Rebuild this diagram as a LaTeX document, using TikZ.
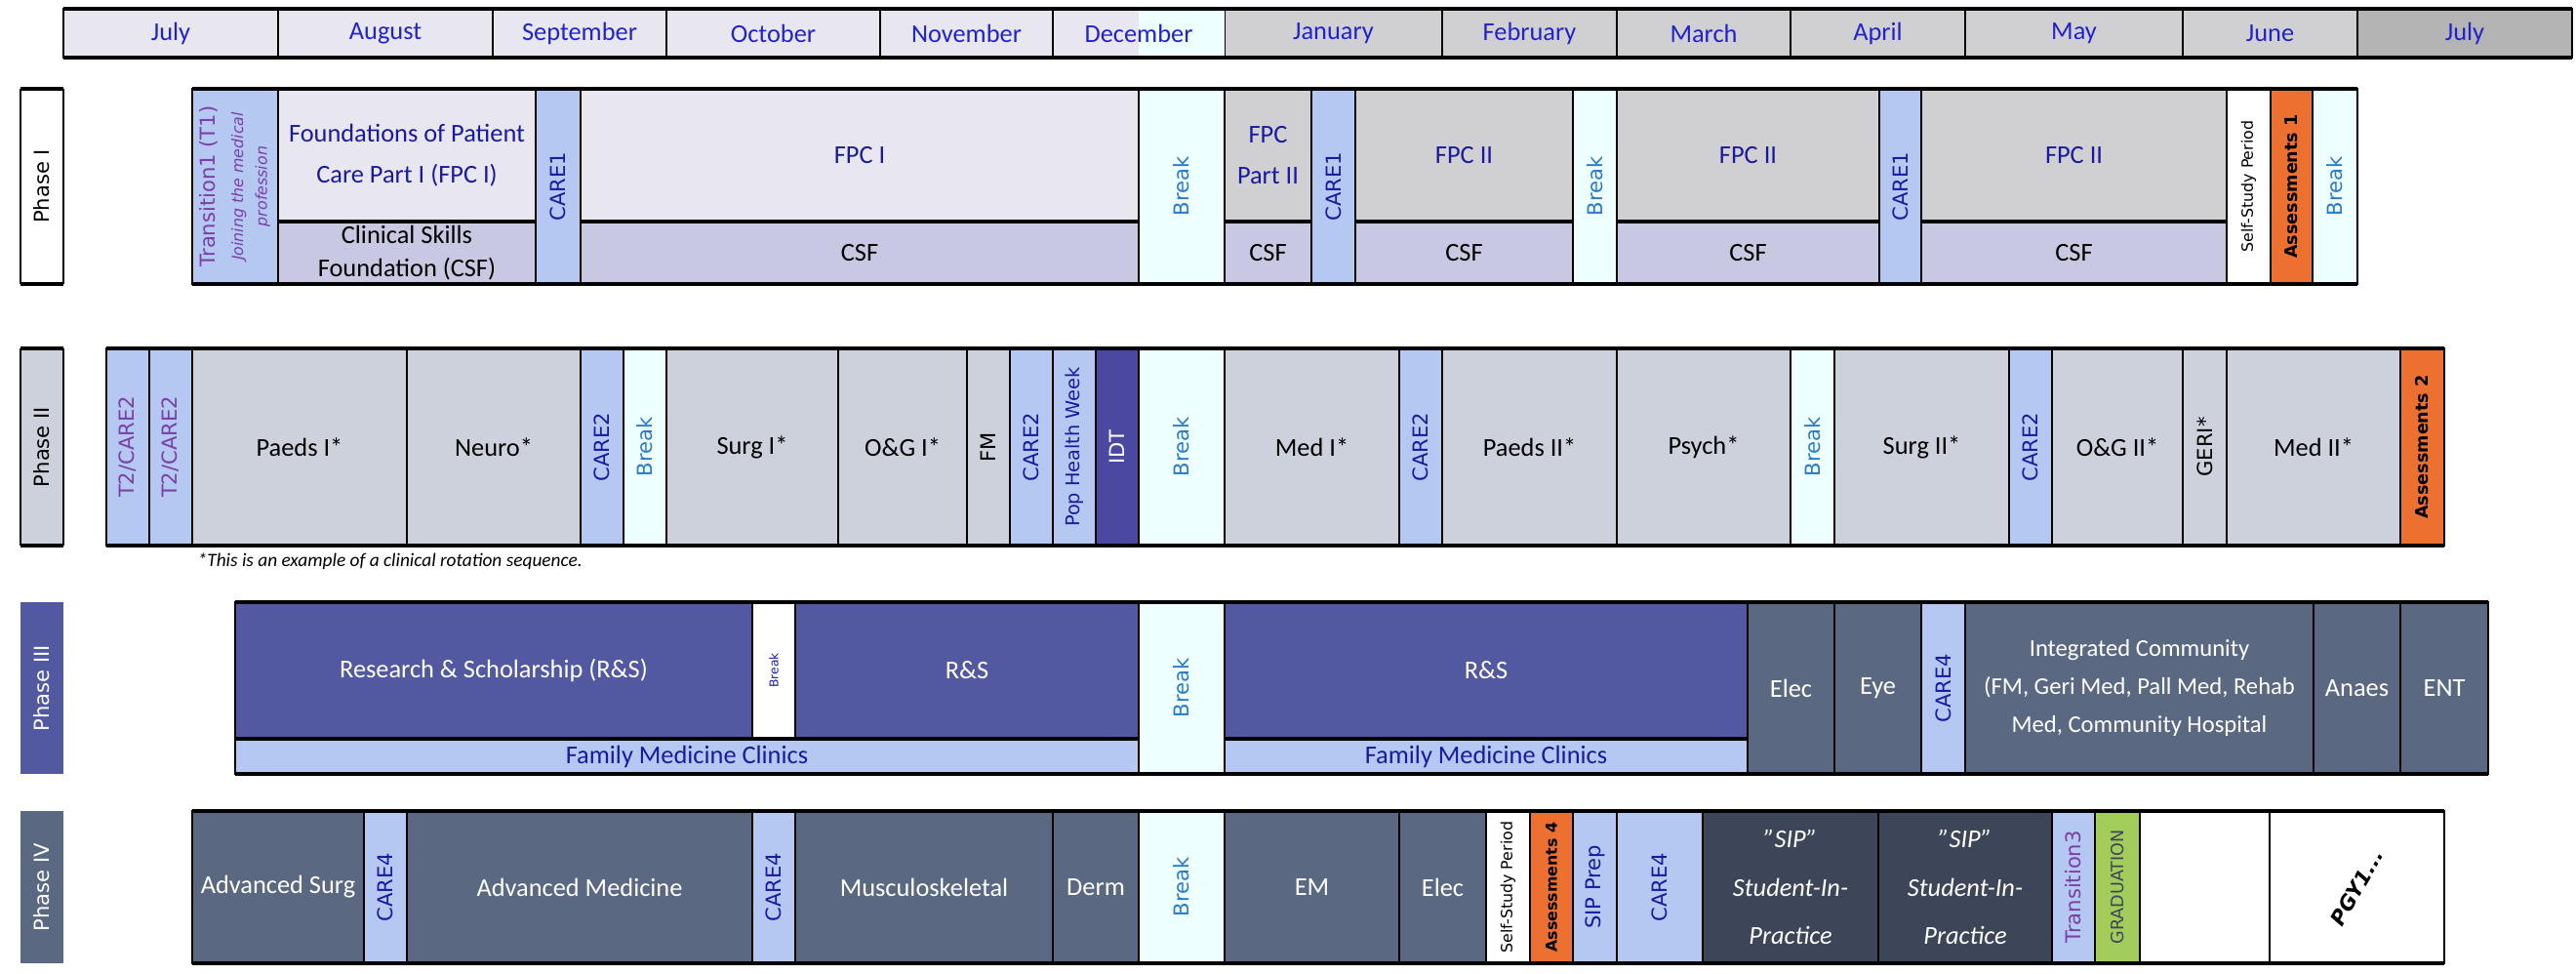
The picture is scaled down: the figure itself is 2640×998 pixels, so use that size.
\documentclass[tikz,border=0pt]{standalone}
\usepackage{fontspec}
\setmainfont{Carlito}
\newfontfamily\wide{DejaVu Sans}
\usetikzlibrary{positioning}
\definecolor{LavBg}{HTML}{E8E6EE}
\definecolor{GreyBg}{HTML}{D0D0D2}
\definecolor{DarkGrey}{HTML}{B4B4B4}
\definecolor{CsfBg}{HTML}{C8C8E2}
\definecolor{CareBg}{HTML}{B4C8F2}
\definecolor{BreakBg}{HTML}{EEFFFF}
\definecolor{ClinBg}{HTML}{CDD1DC}
\definecolor{IdtBg}{HTML}{4A48A0}
\definecolor{RsBg}{HTML}{5259A0}
\definecolor{SlateBg}{HTML}{5B6882}
\definecolor{SipBg}{HTML}{3D4658}
\definecolor{AssessBg}{HTML}{EC7030}
\definecolor{GradBg}{HTML}{A2CD5A}
\definecolor{MonthText}{HTML}{2222CC}
\definecolor{FpcText}{HTML}{1A1AA0}
\definecolor{BreakText}{HTML}{2A7AC8}
\definecolor{TransText}{HTML}{7A3FA8}
\tikzset{
  cell/.style={draw=black, line width=0.5pt},
  lbl/.style={font=\fontsize{7.5}{12}\selectfont, align=center, inner sep=0pt},
  vlbl/.style={font=\wide\fontsize{6}{7}\selectfont, rotate=90, inner sep=0pt},
  care/.style={vlbl, text=FpcText},
  brk/.style={vlbl, text=BreakText},
  tiny/.style={vlbl, font=\wide\fontsize{4.5}{5}\selectfont},
  assess/.style={vlbl, font=\wide\bfseries\fontsize{5}{6}\selectfont},
  row/.style={draw=black, line width=1.4pt}
}
% box: name, x1, x2, y1, y2, fill style, text style, text
\newcommand\blk[8]{%
  \draw[cell, #6] (#2,#4) rectangle (#3,#5);
  \node[#7] (#1) at ({(#2+#3)/2},{(#4+#5)/2}) {#8};}
\begin{document}
\begin{tikzpicture}[x=0.01cm, y=-0.01cm]
\useasboundingbox (0,0) rectangle (2640,998);

% months
\foreach \a/\b/\m/\c [count=\i] in {65/285/July/LavBg, 285/505/August/LavBg,
    505/683/September/LavBg, 683/902/October/LavBg, 902/1079/November/LavBg,
    1079/1255/December/LavBg, 1255/1478/January/GreyBg, 1478/1657/February/GreyBg,
    1657/1835/March/GreyBg, 1835/2014/April/GreyBg, 2014/2237/May/GreyBg,
    2237/2416/June/GreyBg, 2416/2636/July/DarkGrey}
  \draw[cell, fill=\c] (\a,9) rectangle (\b,59);
\fill[BreakBg] (1167,9.5) rectangle (1254.5,58.5);
\foreach \a/\b/\m [count=\i] in {65/285/July, 285/505/August, 505/683/September,
    683/902/October, 902/1079/November, 1079/1255/December, 1255/1478/January,
    1478/1657/February, 1657/1835/March, 1835/2014/April, 2014/2237/May,
    2237/2416/June, 2416/2636/July}
  \node[lbl, text=MonthText] (m\i) at ({(\a+\b)/2},34) {\m};
\draw[row] (65,9) -- (2636,9) (65,59) -- (2636,59);
\draw[cell] (65,9) -- (65,59) (2636,9) -- (2636,59);

% phase labels
\blk{p1}{21}{65}{91}{291}{fill=white, draw=none}{vlbl}{Phase I}
\draw[row] (21,91) -- (65,91) (21,291) -- (65,291);
\draw[cell] (21,91) -- (21,291) (65,91) -- (65,291);
\blk{p2}{21}{65}{357}{559}{fill=ClinBg, draw=none}{vlbl}{Phase II}
\draw[row] (21,357) -- (65,357) (21,559) -- (65,559);
\draw[cell] (21,357) -- (21,559) (65,357) -- (65,559);
\blk{p3}{21}{65}{617}{793}{fill=RsBg, draw=none}{vlbl, text=white}{Phase III}
\blk{p4}{21}{65}{831}{987}{fill=SlateBg, draw=none}{vlbl, text=white}{Phase IV}

% Phase I
\blk{t1}{197}{285}{91}{291}{fill=CareBg}{vlbl, align=center, text=TransText}{Transition1 (T1)\\[1pt]{\fontsize{4.5}{5.5}\selectfont\itshape Joining the medical}\\{\fontsize{4.5}{5.5}\selectfont\itshape profession}}
\blk{fpca}{285}{549}{91}{227}{fill=LavBg}{lbl, text=FpcText}{Foundations of Patient\\Care Part I (FPC I)}
\blk{csfa}{285}{549}{227}{291}{fill=CsfBg}{lbl, font=\fontsize{7.5}{9.5}\selectfont}{Clinical Skills\\Foundation (CSF)}
\blk{ca}{549}{595}{91}{291}{fill=CareBg}{care}{CARE1}
\blk{fpcb}{595}{1167}{91}{227}{fill=LavBg}{lbl, text=FpcText}{FPC I}
\blk{csfb}{595}{1167}{227}{291}{fill=CsfBg}{lbl}{CSF}
\blk{ba}{1167}{1255}{91}{291}{fill=BreakBg}{brk}{Break}
\blk{fpcc}{1255}{1344}{91}{227}{fill=GreyBg}{lbl, text=FpcText}{FPC\\Part II}
\blk{csfc}{1255}{1344}{227}{291}{fill=CsfBg}{lbl}{CSF}
\blk{cb}{1344}{1389}{91}{291}{fill=CareBg}{care}{CARE1}
\blk{fpcd}{1389}{1612}{91}{227}{fill=GreyBg}{lbl, text=FpcText}{FPC II}
\blk{csfd}{1389}{1612}{227}{291}{fill=CsfBg}{lbl}{CSF}
\blk{bb}{1612}{1657}{91}{291}{fill=BreakBg}{brk}{Break}
\blk{fpce}{1657}{1926}{91}{227}{fill=GreyBg}{lbl, text=FpcText}{FPC II}
\blk{csfe}{1657}{1926}{227}{291}{fill=CsfBg}{lbl}{CSF}
\blk{cc}{1926}{1969}{91}{291}{fill=CareBg}{care}{CARE1}
\blk{fpcf}{1969}{2282}{91}{227}{fill=GreyBg}{lbl, text=FpcText}{FPC II}
\blk{csff}{1969}{2282}{227}{291}{fill=CsfBg}{lbl}{CSF}
\blk{ssa}{2282}{2327}{91}{291}{fill=white}{tiny}{Self-Study Period}
\blk{asa}{2327}{2370}{91}{291}{fill=AssessBg}{assess}{Assessments 1}
\blk{bc}{2370}{2416}{91}{291}{fill=BreakBg}{brk}{Break}
\draw[row] (197,91) -- (2416,91) (197,291) -- (2416,291);
\draw[row, line width=1pt] (285,227) -- (549,227) (595,227) -- (1167,227)
  (1255,227) -- (1344,227) (1389,227) -- (1612,227) (1657,227) -- (1926,227) (1969,227) -- (2282,227);

% Phase II
\blk{t2a}{109}{153}{357}{559}{fill=CareBg}{vlbl, text=TransText}{T2/CARE2}
\blk{t2b}{153}{197}{357}{559}{fill=CareBg}{vlbl, text=TransText}{T2/CARE2}
\blk{paeda}{197}{417}{357}{559}{fill=ClinBg}{lbl}{Paeds I*}
\blk{neuro}{417}{595}{357}{559}{fill=ClinBg}{lbl}{Neuro*}
\blk{cd}{595}{639}{357}{559}{fill=CareBg}{care}{CARE2}
\blk{bd}{639}{683}{357}{559}{fill=BreakBg}{brk}{Break}
\blk{surga}{683}{859}{357}{559}{fill=ClinBg}{lbl}{Surg I*}
\blk{oga}{859}{991}{357}{559}{fill=ClinBg}{lbl}{O\&G I*}
\blk{fm}{991}{1035}{357}{559}{fill=ClinBg}{vlbl}{FM}
\blk{ce}{1035}{1079}{357}{559}{fill=CareBg}{care}{CARE2}
\blk{pop}{1079}{1123}{357}{559}{fill=CareBg}{care, font=\wide\fontsize{5.5}{6}\selectfont}{Pop Health Week}
\blk{idt}{1123}{1167}{357}{559}{fill=IdtBg}{vlbl, text=white}{IDT}
\blk{be}{1167}{1255}{357}{559}{fill=BreakBg}{brk}{Break}
\blk{meda}{1255}{1434}{357}{559}{fill=ClinBg}{lbl}{Med I*}
\blk{cf}{1434}{1478}{357}{559}{fill=CareBg}{care}{CARE2}
\blk{paedb}{1478}{1657}{357}{559}{fill=ClinBg}{lbl}{Paeds II*}
\blk{psych}{1657}{1835}{357}{559}{fill=ClinBg}{lbl}{Psych*}
\blk{bf}{1835}{1880}{357}{559}{fill=BreakBg}{brk}{Break}
\blk{surgb}{1880}{2059}{357}{559}{fill=ClinBg}{lbl}{Surg II*}
\blk{cg}{2059}{2103}{357}{559}{fill=CareBg}{care}{CARE2}
\blk{ogb}{2103}{2237}{357}{559}{fill=ClinBg}{lbl}{O\&G II*}
\blk{geri}{2237}{2282}{357}{559}{fill=ClinBg}{vlbl}{GERI*}
\blk{medb}{2282}{2460}{357}{559}{fill=ClinBg}{lbl}{Med II*}
\blk{asb}{2460}{2505}{357}{559}{fill=AssessBg}{assess}{Assessments 2}
\draw[row] (109,357) -- (2505,357) (109,559) -- (2505,559);
\node[lbl, anchor=west, font=\itshape\fontsize{5.5}{7}\selectfont] (note) at (202,575) {*This is an example of a clinical rotation sequence.};

% Phase III
\blk{rsa}{241}{771}{617}{757}{fill=RsBg}{lbl, text=white}{Research \& Scholarship (R\&S)}
\blk{bg}{771}{815}{617}{757}{fill=white}{vlbl, text=FpcText, font=\wide\fontsize{3.5}{4}\selectfont}{Break}
\blk{rsb}{815}{1167}{617}{757}{fill=RsBg}{lbl, text=white}{R\&S}
\blk{fmca}{241}{1167}{757}{793}{fill=CareBg}{lbl, text=FpcText}{Family Medicine Clinics}
\blk{bh}{1167}{1255}{617}{793}{fill=BreakBg}{brk}{Break}
\blk{rsc}{1255}{1791}{617}{757}{fill=RsBg}{lbl, text=white}{R\&S}
\blk{fmcb}{1255}{1791}{757}{793}{fill=CareBg}{lbl, text=FpcText}{Family Medicine Clinics}
\blk{eleca}{1791}{1880}{617}{793}{fill=SlateBg}{lbl, text=white}{Elec}
\blk{eye}{1880}{1969}{617}{793}{fill=SlateBg}{lbl, text=white}{Eye}
\blk{ch}{1969}{2014}{617}{793}{fill=CareBg}{care}{CARE4}
\blk{icm}{2014}{2371}{617}{793}{fill=SlateBg}{lbl, text=white, font=\fontsize{7}{11}\selectfont}{Integrated Community\\(FM, Geri Med, Pall Med, Rehab\\Med, Community Hospital}
\blk{anaes}{2371}{2460}{617}{793}{fill=SlateBg}{lbl, text=white}{Anaes}
\blk{ent}{2460}{2550}{617}{793}{fill=SlateBg}{lbl, text=white}{ENT}
\draw[row] (241,617) -- (2550,617) (241,793) -- (2550,793);
\draw[row, line width=1pt] (241,757) -- (1167,757) (1255,757) -- (1791,757);

% Phase IV
\blk{advs}{197}{373}{831}{987}{fill=SlateBg}{lbl, text=white}{Advanced Surg}
\blk{ci}{373}{417}{831}{987}{fill=CareBg}{care}{CARE4}
\blk{advm}{417}{771}{831}{987}{fill=SlateBg}{lbl, text=white}{Advanced Medicine}
\blk{cj}{771}{815}{831}{987}{fill=CareBg}{care}{CARE4}
\blk{msk}{815}{1079}{831}{987}{fill=SlateBg}{lbl, text=white}{Musculoskeletal}
\blk{derm}{1079}{1167}{831}{987}{fill=SlateBg}{lbl, text=white}{Derm}
\blk{bi}{1167}{1255}{831}{987}{fill=BreakBg}{brk}{Break}
\blk{em}{1255}{1434}{831}{987}{fill=SlateBg}{lbl, text=white}{EM}
\blk{elecb}{1434}{1523}{831}{987}{fill=SlateBg}{lbl, text=white}{Elec}
\blk{ssb}{1523}{1568}{831}{987}{fill=white}{tiny}{Self-Study Period}
\blk{asc}{1568}{1612}{831}{987}{fill=AssessBg}{assess, font=\wide\bfseries\fontsize{4.5}{5}\selectfont}{Assessments 4}
\blk{sipp}{1612}{1657}{831}{987}{fill=CareBg}{care}{SIP Prep}
\blk{ck}{1657}{1745}{831}{987}{fill=CareBg}{care}{CARE4}
\blk{sipa}{1745}{1925}{831}{987}{fill=SipBg}{lbl, text=white, font=\itshape\fontsize{7.5}{14}\selectfont}{\symbol{34}SIP\symbol{34}\\Student-In-\\Practice}
\blk{sipb}{1925}{2103}{831}{987}{fill=SipBg}{lbl, text=white, font=\itshape\fontsize{7.5}{14}\selectfont}{\symbol{34}SIP\symbol{34}\\Student-In-\\Practice}
\blk{t3}{2103}{2147}{831}{987}{fill=CareBg}{vlbl, text=TransText}{Transition3}
\blk{grad}{2147}{2193}{831}{987}{fill=GradBg}{vlbl, text=SipBg, font=\wide\fontsize{5}{6}\selectfont}{GRADUATION}
\blk{blank}{2193}{2326}{831}{987}{fill=white}{lbl}{}
\blk{pgy}{2326}{2505}{831}{987}{fill=white}{lbl, rotate=60, font=\wide\bfseries\itshape\fontsize{6}{7}\selectfont}{PGY1...}
\draw[row] (197,831) -- (2505,831) (197,987) -- (2505,987);
\end{tikzpicture}
\end{document}
